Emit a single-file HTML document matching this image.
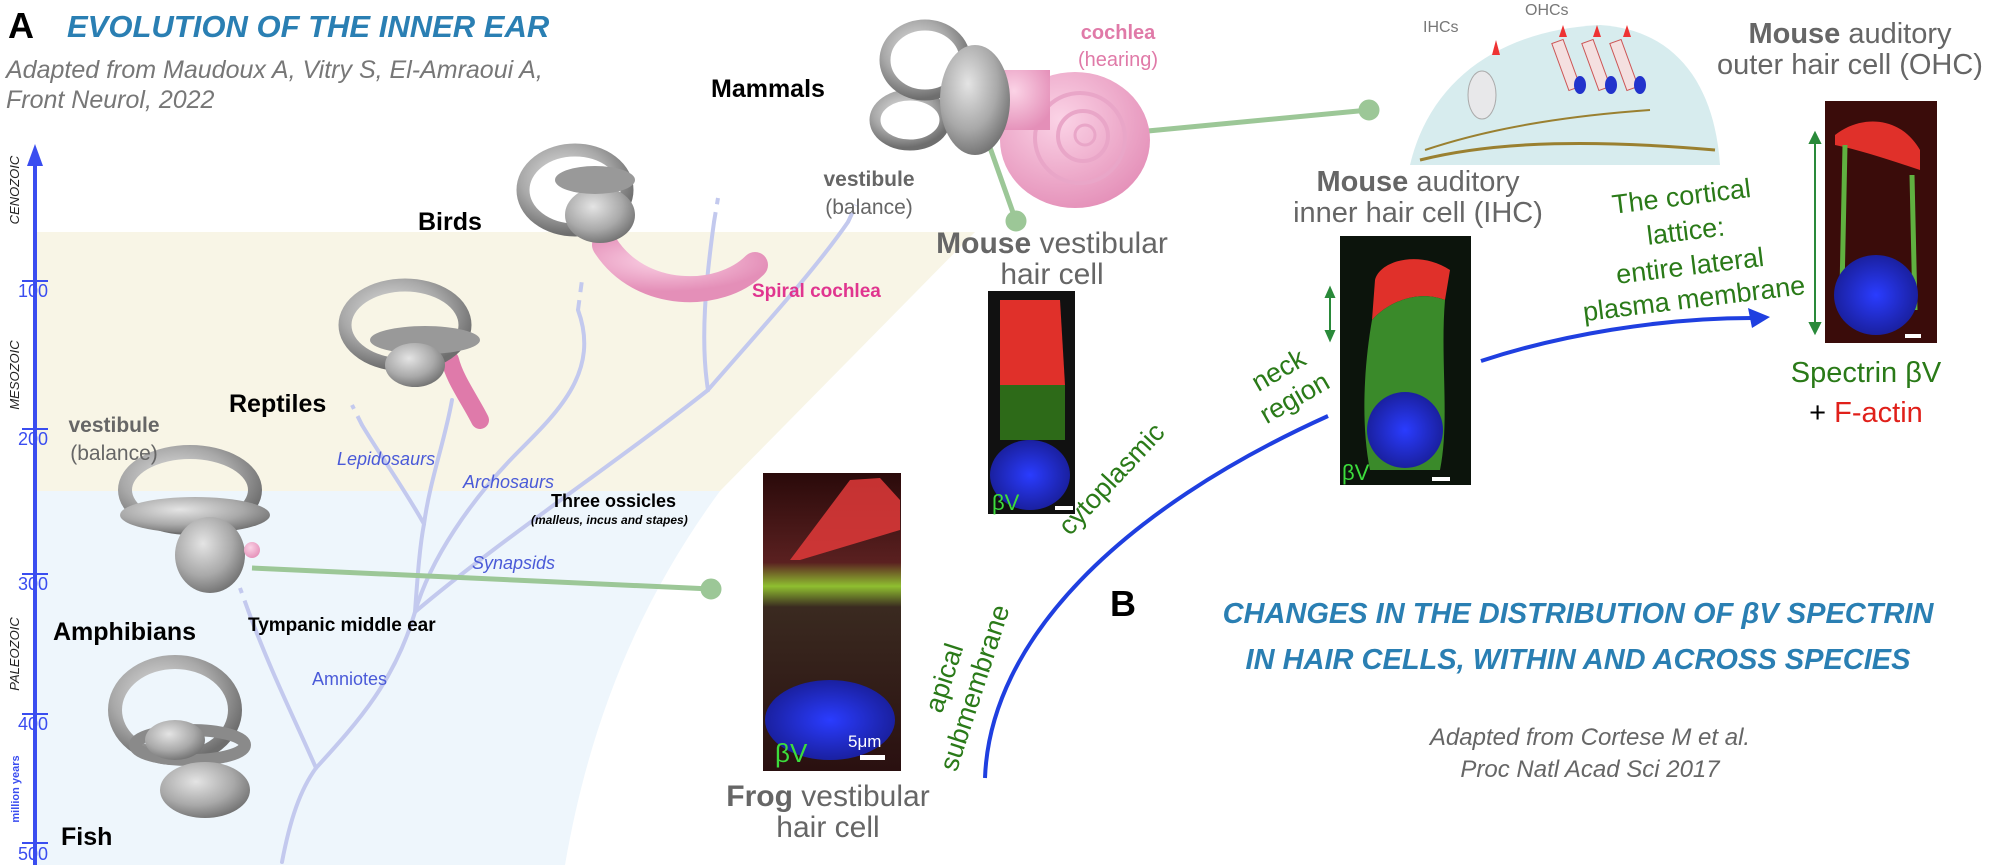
<!DOCTYPE html>
<html><head><meta charset="utf-8"><style>
html,body{margin:0;padding:0;background:#fff}
#c{position:relative;width:2000px;height:865px;overflow:hidden;font-family:"Liberation Sans",sans-serif}
.t{position:absolute;white-space:nowrap;line-height:1}
.c{transform:translateX(-50%);text-align:center}
</style></head><body><div id="c">
<svg width="2000" height="865" style="position:absolute;left:0;top:0">
<defs>
<radialGradient id="g" cx="40%" cy="35%" r="70%"><stop offset="0" stop-color="#e4e4e4"/><stop offset="0.6" stop-color="#a9a9a9"/><stop offset="1" stop-color="#6e6e6e"/></radialGradient>
<radialGradient id="pk" cx="40%" cy="35%" r="70%"><stop offset="0" stop-color="#fbd3e6"/><stop offset="1" stop-color="#e48fb8"/></radialGradient>
<radialGradient id="nuc" cx="50%" cy="50%" r="50%"><stop offset="0" stop-color="#2a3cff"/><stop offset="1" stop-color="#1a20a0"/></radialGradient>
<linearGradient id="frog" x1="0" y1="0" x2="0" y2="1"><stop offset="0" stop-color="#2a0a0a"/><stop offset="0.3" stop-color="#5a2020"/><stop offset="0.38" stop-color="#8fbf30"/><stop offset="0.45" stop-color="#3a2a20"/><stop offset="1" stop-color="#2a1010"/></linearGradient>
</defs>
<path d="M35,232 L975,232 L720,491 L35,491Z" fill="#f8f5e6"/>
<path d="M35,491 L720,491 C640,600 590,720 565,865 L35,865Z" fill="#eef6fc"/>
<line x1="35" y1="160" x2="35" y2="865" stroke="#3a4df0" stroke-width="4"/>
<path d="M35,144 L27,166 L43,166Z" fill="#3a4df0"/>
<g stroke="#3a4df0" stroke-width="2"><line x1="22" y1="281" x2="48" y2="281"/><line x1="22" y1="429" x2="48" y2="429"/><line x1="22" y1="574" x2="48" y2="574"/><line x1="22" y1="714" x2="48" y2="714"/><line x1="22" y1="843" x2="48" y2="843"/></g>
<g fill="#3a4df0" font-family="Liberation Sans" font-size="18"><text x="18" y="297">100</text><text x="18" y="445">200</text><text x="18" y="590">300</text><text x="18" y="730">400</text><text x="18" y="860">500</text></g>
<g font-family="Liberation Sans" font-style="italic" font-size="13" fill="#222" text-anchor="middle">
<text transform="translate(19,190) rotate(-90)">CENOZOIC</text>
<text transform="translate(19,375) rotate(-90)">MESOZOIC</text>
<text transform="translate(19,654) rotate(-90)">PALEOZOIC</text>
<text transform="translate(19,789) rotate(-90)" fill="#3a4df0" font-weight="bold" font-style="normal" font-size="11">million years</text></g>
<g fill="none" stroke="#c3c9ee" stroke-width="4" stroke-linecap="round">
<path d="M282,862 C290,820 300,790 316,768"/>
<path d="M316,768 C295,720 270,670 248,610"/>
<path d="M316,768 C360,720 395,680 415,612"/>
<path d="M415,612 C418,570 420,545 424,524"/>
<path d="M424,524 C405,490 380,455 362,425"/>
<path d="M424,524 C430,480 445,440 452,400"/>
<path d="M415,612 C430,560 470,500 520,450 C560,410 600,370 578,310"/>
<path d="M415,612 C500,540 620,460 708,390"/>
<path d="M708,390 C700,340 706,280 714,222"/>
<path d="M708,390 C760,330 815,270 848,222"/>
</g>
<g fill="none" stroke="#c3c9ee" stroke-width="4" stroke-dasharray="10,8"><path d="M248,610 L240,588"/><path d="M362,425 L352,405"/><path d="M578,310 L582,280"/><path d="M714,222 L718,198"/><path d="M848,222 L856,205"/></g>
<g stroke="#9cc797" stroke-width="5" fill="#9cc797">
<line x1="252" y1="568" x2="711" y2="589"/><circle cx="711" cy="589" r="8"/>
<line x1="1137" y1="132" x2="1369" y2="110"/><circle cx="1369" cy="110" r="8"/>
<line x1="976" y1="108" x2="1016" y2="221"/><circle cx="1016" cy="221" r="8"/>
</g>
<g>
<ellipse cx="175" cy="710" rx="60" ry="48" fill="none" stroke="url(#g)" stroke-width="14"/>
<ellipse cx="190" cy="745" rx="55" ry="15" fill="none" stroke="#8a8a8a" stroke-width="12"/>
<ellipse cx="205" cy="790" rx="45" ry="28" fill="url(#g)"/>
<ellipse cx="175" cy="740" rx="30" ry="20" fill="url(#g)"/>
</g>
<g>
<ellipse cx="190" cy="490" rx="65" ry="38" fill="none" stroke="url(#g)" stroke-width="14"/>
<ellipse cx="195" cy="515" rx="75" ry="18" fill="url(#g)"/>
<ellipse cx="210" cy="555" rx="35" ry="38" fill="url(#g)"/>
<circle cx="252" cy="550" r="8" fill="url(#pk)"/>
</g>
<g>
<path d="M480,420 C470,400 455,380 450,360" stroke="#df7aaa" stroke-width="18" fill="none" stroke-linecap="round"/>
<ellipse cx="405" cy="325" rx="60" ry="40" fill="none" stroke="url(#g)" stroke-width="13"/>
<ellipse cx="425" cy="340" rx="55" ry="14" fill="#999"/>
<ellipse cx="415" cy="365" rx="30" ry="22" fill="url(#g)"/>
</g>
<g>
<path d="M605,245 C640,300 720,300 755,265" stroke="url(#pk)" stroke-width="26" fill="none" stroke-linecap="round"/>
<ellipse cx="575" cy="190" rx="52" ry="40" fill="none" stroke="url(#g)" stroke-width="13"/>
<ellipse cx="600" cy="215" rx="35" ry="28" fill="url(#g)"/>
<ellipse cx="595" cy="180" rx="40" ry="14" fill="#999"/>
</g>
<g>
<ellipse cx="1075" cy="140" rx="75" ry="68" fill="url(#pk)"/>
<circle cx="1080" cy="138" r="45" fill="none" stroke="#e9a6c8" stroke-width="4"/>
<circle cx="1083" cy="136" r="25" fill="none" stroke="#e9a6c8" stroke-width="4"/>
<circle cx="1085" cy="135" r="10" fill="none" stroke="#e9a6c8" stroke-width="3"/>
<rect x="990" y="70" width="60" height="60" fill="url(#pk)"/>
<ellipse cx="910" cy="120" rx="35" ry="25" fill="none" stroke="url(#g)" stroke-width="11"/>
<ellipse cx="925" cy="60" rx="40" ry="35" fill="none" stroke="url(#g)" stroke-width="11"/>
<ellipse cx="975" cy="100" rx="35" ry="55" fill="url(#g)"/>
</g>
<g>
<path d="M1410,165 C1430,80 1500,30 1600,25 C1680,30 1715,90 1720,165Z" fill="#d7ecee"/>
<path d="M1420,160 C1500,140 1600,140 1715,150" stroke="#9a8030" stroke-width="3" fill="none"/>
<path d="M1425,150 C1500,125 1580,115 1650,110" stroke="#9a8030" stroke-width="2" fill="none"/>
<ellipse cx="1482" cy="95" rx="14" ry="24" fill="#e8e8ea" stroke="#aaa"/>
<path d="M1496,40 l4,15 h-8z" fill="#e33"/>
<g fill="#f4e0e0" stroke="#c55"><rect x="1560" y="40" width="12" height="50" transform="rotate(-20 1566 65)"/><rect x="1590" y="40" width="12" height="50" transform="rotate(-20 1596 65)"/><rect x="1618" y="40" width="12" height="50" transform="rotate(-20 1624 65)"/></g>
<g fill="#2233cc"><ellipse cx="1580" cy="85" rx="6" ry="9"/><ellipse cx="1611" cy="85" rx="6" ry="9"/><ellipse cx="1640" cy="85" rx="6" ry="9"/></g>
<g fill="#e33"><path d="M1563,25 l4,12 h-8z"/><path d="M1597,25 l4,12 h-8z"/><path d="M1627,25 l4,12 h-8z"/></g>
</g>
<rect x="763" y="473" width="138" height="298" fill="url(#frog)"/>
<path d="M790,560 L850,480 L880,478 L900,500 L900,530 L800,560Z" fill="#e03a3a" opacity="0.85"/>
<ellipse cx="830" cy="720" rx="65" ry="40" fill="url(#nuc)"/>
<rect x="860" y="755" width="25" height="5" fill="#fff"/>
<text x="775" y="762" fill="#3cdc3c" font-family="Liberation Sans" font-size="26">βV</text>
<text x="848" y="747" fill="#fff" font-family="Liberation Sans" font-size="17">5μm</text>
<rect x="988" y="291" width="87" height="223" fill="#111"/>
<path d="M1000,300 L1060,300 L1065,385 L1000,385Z" fill="#e0302a"/>
<rect x="1000" y="385" width="65" height="55" fill="#2d6a18"/>
<ellipse cx="1030" cy="475" rx="40" ry="35" fill="url(#nuc)"/>
<rect x="1055" y="506" width="18" height="4" fill="#fff"/>
<text x="992" y="510" fill="#3cdc3c" font-family="Liberation Sans" font-size="22">βV</text>
<rect x="1340" y="236" width="131" height="249" fill="#0c140c"/>
<path d="M1375,280 C1380,260 1420,250 1450,270 L1445,300 C1420,290 1390,300 1372,320Z" fill="#e0302a"/>
<path d="M1372,320 C1390,300 1420,290 1445,300 C1440,360 1450,420 1440,470 L1370,470 C1360,420 1365,360 1372,320Z" fill="#3a8a2a"/>
<ellipse cx="1405" cy="430" rx="38" ry="38" fill="url(#nuc)"/>
<rect x="1432" y="477" width="18" height="4" fill="#fff"/>
<text x="1342" y="480" fill="#3cdc3c" font-family="Liberation Sans" font-size="22">βV</text>
<rect x="1825" y="101" width="112" height="242" fill="#3a0c0a"/>
<path d="M1835,135 C1860,115 1900,115 1920,150 L1920,170 C1890,160 1860,150 1835,145Z" fill="#e0302a"/>
<path d="M1845,145 L1842,290 M1912,175 L1915,310" stroke="#60b040" stroke-width="5" fill="none"/>
<ellipse cx="1876" cy="295" rx="42" ry="40" fill="url(#nuc)"/>
<rect x="1905" y="334" width="16" height="4" fill="#fff"/>
<g stroke="#2a8a3a" stroke-width="2" fill="#2a8a3a">
<line x1="1815" y1="140" x2="1815" y2="327"/><path d="M1815,133 l-5,10 h10z"/><path d="M1815,333 l-5,-10 h10z"/>
<line x1="1330" y1="295" x2="1330" y2="335"/><path d="M1330,288 l-4,9 h8z"/><path d="M1330,340 l-4,-9 h8z"/>
</g>
<path d="M985,778 C990,640 1120,510 1328,416" stroke="#1f3fe0" stroke-width="4" fill="none"/>
<path d="M1481,361 C1560,335 1660,318 1752,318" stroke="#1f3fe0" stroke-width="4" fill="none"/>
<path d="M1770,317 L1748,308 L1752,328Z" fill="#1f3fe0"/>
<g fill="#2a7a18" font-family="Liberation Sans" font-size="27" text-anchor="middle">
<text transform="translate(966,685) rotate(-72)"><tspan x="0" y="-14">apical</tspan><tspan x="0" y="18">submembrane</tspan></text>
<text transform="translate(1118,485) rotate(-47)">cytoplasmic</text>
<text transform="translate(1290,390) rotate(-30)"><tspan x="0" y="-14">neck</tspan><tspan x="0" y="18">region</tspan></text>
<g transform="translate(1688,250) rotate(-7)"><text y="-45">The cortical</text><text y="-10">lattice:</text><text y="25">entire lateral</text><text y="58">plasma membrane</text></g>
</g>
</svg>
<div class="t" style="left:8px;top:8px;font-size:36px;font-weight:bold">A</div>
<div class="t" style="left:67px;top:11px;font-size:31px;font-weight:bold;font-style:italic;color:#2a7fb3">EVOLUTION OF THE INNER EAR</div>
<div class="t" style="left:6px;top:55px;font-size:25px;font-style:italic;color:#777;line-height:30px">Adapted from Maudoux A, Vitry S, El-Amraoui A,<br>Front Neurol, 2022</div>
<div class="t" style="left:711px;top:77px;font-size:25px;font-weight:bold">Mammals</div>
<div class="t" style="left:418px;top:210px;font-size:25px;font-weight:bold">Birds</div>
<div class="t" style="left:229px;top:392px;font-size:25px;font-weight:bold">Reptiles</div>
<div class="t" style="left:53px;top:620px;font-size:25px;font-weight:bold">Amphibians</div>
<div class="t" style="left:61px;top:825px;font-size:25px;font-weight:bold">Fish</div>
<div class="t c" style="left:114px;top:412px;font-size:21px;color:#666;line-height:28px"><b>vestibule</b><br>(balance)</div>
<div class="t c" style="left:869px;top:166px;font-size:21px;color:#666;line-height:28px"><b>vestibule</b><br>(balance)</div>
<div class="t" style="left:752px;top:282px;font-size:19px;font-weight:bold;color:#e0358f">Spiral cochlea</div>
<div class="t" style="left:337px;top:450px;font-size:18px;font-style:italic;color:#4a5ad8">Lepidosaurs</div>
<div class="t" style="left:463px;top:473px;font-size:18px;font-style:italic;color:#4a5ad8">Archosaurs</div>
<div class="t" style="left:472px;top:554px;font-size:18px;font-style:italic;color:#4a5ad8">Synapsids</div>
<div class="t" style="left:312px;top:670px;font-size:18px;color:#4a5ad8">Amniotes</div>
<div class="t" style="left:551px;top:492px;font-size:18px;font-weight:bold">Three ossicles</div>
<div class="t" style="left:531px;top:514px;font-size:12px;font-weight:bold;font-style:italic">(malleus, incus and stapes)</div>
<div class="t" style="left:248px;top:616px;font-size:19px;font-weight:bold">Tympanic middle ear</div>
<div class="t c" style="left:828px;top:781px;font-size:30px;color:#666;line-height:31px"><b>Frog</b> vestibular<br>hair cell</div>
<div class="t c" style="left:1052px;top:228px;font-size:30px;color:#666;line-height:31px"><b>Mouse</b> vestibular<br>hair cell</div>
<div class="t c" style="left:1118px;top:20px;font-size:20px;color:#e07aa8;line-height:27px"><b>cochlea</b><br>(hearing)</div>
<div class="t" style="left:1423px;top:20px;font-size:16px;color:#777">IHCs</div>
<div class="t" style="left:1525px;top:3px;font-size:16px;color:#777">OHCs</div>
<div class="t c" style="left:1418px;top:167px;font-size:29px;color:#666;line-height:31px"><b>Mouse</b> auditory<br>inner hair cell (IHC)</div>
<div class="t c" style="left:1850px;top:19px;font-size:29px;color:#666;line-height:31px"><b>Mouse</b> auditory<br>outer hair cell (OHC)</div>
<div class="t c" style="left:1866px;top:353px;font-size:29px;color:#2a7a18;line-height:40px">Spectrin βV<br><span style="color:#000">+ </span><span style="color:#e0201a">F-actin</span></div>
<div class="t" style="left:1110px;top:586px;font-size:36px;font-weight:bold">B</div>
<div class="t c" style="left:1578px;top:591px;font-size:29px;font-weight:bold;font-style:italic;color:#2a7fb3;line-height:46px">CHANGES IN THE DISTRIBUTION OF βV SPECTRIN<br>IN HAIR CELLS, WITHIN AND ACROSS SPECIES</div>
<div class="t c" style="left:1590px;top:722px;font-size:24px;font-style:italic;color:#666;line-height:32px">Adapted from Cortese M et al.<br>Proc Natl Acad Sci 2017</div>
</div></body></html>
